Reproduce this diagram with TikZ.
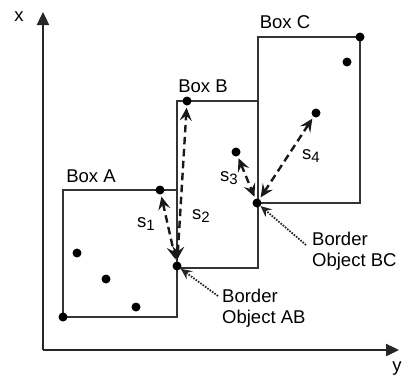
\documentclass[tikz,border=0pt]{standalone}
\usepackage{fontspec}
\setmainfont{Liberation Sans}
\usetikzlibrary{arrows.meta}
\newcommand{\subx}[1]{\raisebox{-3.5pt}{\fontsize{15}{15}\selectfont #1}}
\begin{document}
\begin{tikzpicture}[x=1pt,y=-1pt,
  boxline/.style={draw=black!80,line width=1.9pt},
  axisline/.style={draw=black!85,line width=2.4pt,-{Triangle[length=13pt,width=12pt]}},
  dot/.style={circle,fill=black,inner sep=0pt,minimum size=9pt},
  dist/.style={draw=black!90,line width=2.4pt,dash pattern=on 7.5pt off 4.5pt,{Stealth[length=13pt,width=12pt,inset=5pt]}-{Stealth[length=13pt,width=12pt,inset=5pt]},shorten <=2pt,shorten >=2pt},
  pointer/.style={draw=black!85,line width=1.8pt,dash pattern=on 1.6pt off 1.3pt,-{Stealth[length=11pt,width=10pt,inset=4pt]}},
  lbl/.style={font=\fontsize{18.5}{20}\selectfont,inner sep=0pt},
  note/.style={font=\fontsize{18.5}{20.5}\selectfont,inner sep=0pt,align=left,anchor=north west}]
\useasboundingbox (0,0) rectangle (403,378);
% axes
\coordinate (O) at (43,350);
\coordinate (xtip) at (43,12);
\coordinate (ytip) at (399,350);
\draw[axisline] (O) -- (xtip);
\draw[axisline] (O) -- (ytip);
\node[lbl] (xl) at (19,17) {x};
\node[lbl] (yl) at (397,369) {y};
% boxes
\draw[boxline] (63,190) rectangle (177,317);
\draw[boxline] (177,101) rectangle (258,268);
\draw[boxline] (258,37) rectangle (360,203);
\node[lbl] (la) at (91,176) {Box A};
\node[lbl] (lb) at (203,86) {Box B};
\node[lbl] (lc) at (285,22) {Box C};
% points
\node[dot] (a0) at (63,317) {};
\node[dot] (a1) at (77,253) {};
\node[dot] (a2) at (106,279) {};
\node[dot] (a3) at (136,307) {};
\node[dot] (a4) at (160,190) {};
\node[dot] (ab) at (177,266) {};
\node[dot] (b1) at (187,101) {};
\node[dot] (b2) at (236,152) {};
\node[dot] (bc) at (257,203) {};
\node[dot] (c1) at (360,37) {};
\node[dot] (c2) at (347,62) {};
\node[dot] (c3) at (316,113) {};
% distances
\draw[dist] (a4) -- (ab);
\draw[dist] (ab) -- (b1);
\draw[dist] (b2) -- (bc);
\draw[dist] (bc) -- (c3);
\node[lbl] (s1) at (146,224) {s\subx{1}};
\node[lbl] (s2) at (201,216) {s\subx{2}};
\node[lbl] (s3) at (229,178) {s\subx{3}};
\node[lbl] (s4) at (311,156) {s\subx{4}};
% border object notes
\node[note] (nab) at (222,289) {Border\\Object AB};
\node[note] (nbc) at (312,232) {Border\\Object BC};
\coordinate (pab) at (218,296);
\coordinate (pbc) at (306,245);
\draw[pointer] (pab) -- (ab);
\draw[pointer] (pbc) -- (bc);
\end{tikzpicture}
\end{document}
